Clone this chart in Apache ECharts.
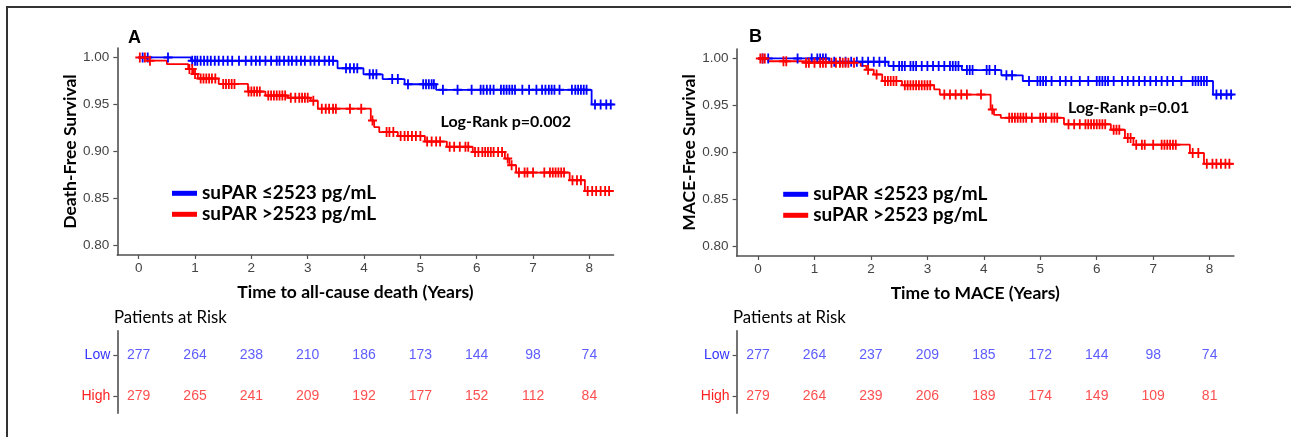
<!DOCTYPE html>
<html>
<head>
<meta charset="utf-8">
<script src="https://cdn.jsdelivr.net/npm/echarts@6/dist/echarts.min.js"></script>
<style>
html,body{margin:0;padding:0;background:#fff;}
#chart{width:1291px;height:437px;}
</style>
</head>
<body>
<div id="chart"></div>
<script>
// ---------- DATA ----------
const xTicks = [0, 1, 2, 3, 4, 5, 6, 7, 8];
const yTicks = [0.80, 0.85, 0.90, 0.95, 1.00];
const lowLabel = 'suPAR \u22642523 pg/mL';
const highLabel = 'suPAR >2523 pg/mL';

// Panel A: death-free survival (step times, survival after step)
const blueA_t = [0, 0.93, 3.53, 3.99, 4.33, 4.72, 5.28, 8.04, 8.43];
const blueA_s = [1.000, 0.9964, 0.9885, 0.982, 0.977, 0.9715, 0.9655, 0.950, 0.950];
const blueA_cens = [0.07, 0.16, 0.52, 0.95, 1.0, 1.04, 1.1, 1.16, 1.22, 1.28, 1.35, 1.42, 1.5, 1.58, 1.66, 1.78, 1.9, 2.0, 2.08, 2.15, 2.25, 2.35, 2.45, 2.5, 2.58, 2.66, 2.72, 2.8, 2.88, 2.95, 3.05, 3.12, 3.2, 3.3, 3.38, 3.45, 3.68, 3.75, 3.82, 3.88, 4.1, 4.16, 4.22, 4.5, 4.6, 4.78, 5.05, 5.1, 5.15, 5.2, 5.24, 5.4, 5.66, 5.91, 6.07, 6.12, 6.18, 6.24, 6.3, 6.43, 6.48, 6.53, 6.58, 6.63, 6.68, 6.81, 6.93, 7.06, 7.16, 7.22, 7.28, 7.33, 7.38, 7.47, 7.69, 7.75, 7.8, 7.85, 7.9, 7.95, 8.1, 8.2, 8.3, 8.38];
const redA_t = [0, 0.15, 0.5, 0.88, 0.97, 1.05, 1.42, 1.94, 2.25, 2.65, 3.05, 3.18, 4.12, 4.18, 4.27, 4.6, 5.08, 5.47, 5.93, 6.5, 6.58, 6.7, 7.65, 7.92, 8.43];
const redA_s = [1.000, 0.9965, 0.9928, 0.9878, 0.9825, 0.9775, 0.9718, 0.9637, 0.9594, 0.957, 0.954, 0.9455, 0.933, 0.926, 0.9206, 0.9165, 0.9105, 0.905, 0.8995, 0.8925, 0.8855, 0.8776, 0.8695, 0.858, 0.858];
const redA_cens = [0.02, 0.11, 0.2, 0.9, 0.95, 1.0, 1.1, 1.15, 1.2, 1.25, 1.3, 1.36, 1.5, 1.55, 1.6, 1.65, 1.7, 1.95, 2.0, 2.05, 2.1, 2.15, 2.3, 2.35, 2.4, 2.45, 2.5, 2.55, 2.6, 2.7, 2.78, 2.85, 2.9, 2.95, 3.0, 3.1, 3.25, 3.32, 3.38, 3.45, 3.5, 3.75, 3.95, 4.15, 4.4, 4.45, 4.52, 4.65, 4.72, 4.78, 4.85, 4.92, 5.0, 5.12, 5.2, 5.28, 5.35, 5.52, 5.6, 5.7, 5.8, 5.85, 5.97, 6.03, 6.1, 6.15, 6.2, 6.25, 6.3, 6.38, 6.45, 6.55, 6.62, 6.75, 6.85, 6.9, 7.0, 7.2, 7.3, 7.35, 7.4, 7.45, 7.5, 7.55, 7.7, 7.78, 7.85, 7.97, 8.05, 8.12, 8.2, 8.28, 8.35];

// Panel B: MACE-free survival
const blueB_t = [0, 1.26, 2.31, 3.61, 4.31, 4.69, 8.06, 8.42];
const blueB_s = [1.000, 0.9964, 0.9918, 0.9876, 0.982, 0.976, 0.9616, 0.9616];
const blueB_cens = [0.08, 0.18, 0.7, 0.95, 1.05, 1.1, 1.15, 1.2, 1.35, 1.45, 1.55, 1.65, 1.75, 1.85, 1.95, 2.05, 2.15, 2.25, 2.4, 2.5, 2.55, 2.6, 2.7, 2.75, 2.8, 2.9, 3.0, 3.1, 3.2, 3.3, 3.4, 3.45, 3.5, 3.55, 3.7, 3.75, 3.8, 4.05, 4.1, 4.2, 4.4, 4.5, 4.8, 4.95, 5.0, 5.05, 5.1, 5.2, 5.35, 5.45, 5.55, 5.7, 5.85, 6.0, 6.05, 6.1, 6.15, 6.2, 6.3, 6.45, 6.55, 6.65, 6.75, 6.85, 6.95, 7.05, 7.15, 7.25, 7.35, 7.5, 7.7, 7.75, 7.8, 7.85, 7.9, 7.95, 8.12, 8.2, 8.3, 8.38];
const redB_t = [0, 0.18, 0.75, 1.82, 1.92, 2.05, 2.2, 2.55, 3.12, 3.22, 4.12, 4.18, 4.3, 5.42, 6.25, 6.5, 6.65, 7.65, 7.9, 8.42];
const redB_s = [1.000, 0.997, 0.9955, 0.992, 0.988, 0.983, 0.976, 0.9716, 0.967, 0.9616, 0.9456, 0.940, 0.9368, 0.930, 0.9243, 0.9155, 0.9083, 0.8995, 0.888, 0.888];
const redB_cens = [0.04, 0.08, 0.12, 0.45, 0.5, 0.85, 0.9, 1.0, 1.1, 1.15, 1.2, 1.3, 1.38, 1.45, 1.5, 1.55, 1.6, 1.7, 1.95, 2.1, 2.25, 2.3, 2.35, 2.4, 2.45, 2.6, 2.65, 2.7, 2.75, 2.8, 2.85, 2.9, 2.95, 3.0, 3.05, 3.3, 3.4, 3.5, 3.6, 3.7, 3.95, 4.15, 4.45, 4.5, 4.55, 4.6, 4.65, 4.7, 4.75, 4.85, 5.0, 5.05, 5.1, 5.2, 5.25, 5.3, 5.5, 5.6, 5.7, 5.8, 5.85, 5.9, 5.95, 6.0, 6.05, 6.1, 6.15, 6.3, 6.35, 6.4, 6.55, 6.6, 6.7, 6.8, 6.85, 7.0, 7.15, 7.2, 7.25, 7.3, 7.35, 7.4, 7.7, 7.8, 7.95, 8.05, 8.12, 8.2, 8.28, 8.35];

// Patients at risk
const riskTimes = [0, 1, 2, 3, 4, 5, 6, 7, 8];
const riskA_low = [277, 264, 238, 210, 186, 173, 144, 98, 74];
const riskA_high = [279, 265, 241, 209, 192, 177, 152, 112, 84];
const riskB_low = [277, 264, 237, 209, 185, 172, 144, 98, 74];
const riskB_high = [279, 264, 239, 206, 189, 174, 149, 109, 81];

// ---------- STYLE ----------
const BLUE = '#0000FF', RED = '#FF0000';
const TBLUE = '#3333ff', TRED = '#ff2222';
const AXIS = '#505050', TICKTXT = '#444444';
const SANS = '"Liberation Sans", Arial, sans-serif';
const HUM = 'Lato, "Open Sans", sans-serif';
const PLUS = 'path://M4,0H6V4H10V6H6V10H4V6H0V4H4Z';

function stepData(ts, ss) { return ts.map((t, i) => [t, ss[i]]); }
function survAt(ts, ss, t) { let v = ss[0]; for (let i = 0; i < ts.length; i++) { if (ts[i] <= t) v = ss[i]; } return v; }
function censData(ts, ss, cs) { return cs.map(c => [c, survAt(ts, ss, c)]); }

const grids = [
  { left: 117.3, top: 48, width: 496.3, height: 207 },
  { left: 736.6, top: 49, width: 497.3, height: 207 },
  { left: 117.3, top: 330.7, width: 496.3, height: 82.6 },
  { left: 736.6, top: 330.7, width: 497.3, height: 82.6 }
];

function plotX(idx, name) {
  return {
    gridIndex: idx, type: 'value', min: -0.38, max: 8.43,
    name: name, nameLocation: 'middle', nameGap: 28,
    nameTextStyle: { fontFamily: HUM, fontWeight: 'bold', fontSize: 17.5, color: '#000', padding: [0, 20, 0, 0] },
    axisLine: { show: true, onZero: false, lineStyle: { color: AXIS, width: 1.6 } },
    axisTick: { show: true, length: 4, lineStyle: { color: AXIS, width: 1.2 }, customValues: xTicks },
    axisLabel: { show: true, customValues: xTicks, margin: 6, color: TICKTXT, fontFamily: SANS, fontSize: 13.5 },
    splitLine: { show: false }
  };
}
function plotY(idx, name) {
  return {
    gridIndex: idx, type: 'value', min: 0.79, max: 1.01,
    name: name, nameLocation: 'middle', nameGap: 37,
    nameTextStyle: { fontFamily: HUM, fontWeight: 'bold', fontSize: 17.5, color: '#000' },
    axisLine: { show: true, onZero: false, lineStyle: { color: AXIS, width: 1.6 } },
    axisTick: { show: true, length: 4, lineStyle: { color: AXIS, width: 1.2 }, customValues: yTicks },
    axisLabel: { show: true, customValues: yTicks, margin: 8, color: TICKTXT, fontFamily: SANS, fontSize: 13.5,
      formatter: v => v.toFixed(2) },
    splitLine: { show: false }
  };
}
function tableX(idx) {
  return { gridIndex: idx, type: 'value', min: -0.38, max: 8.43, show: false, axisLine: { onZero: false }, splitLine: { show: false } };
}
function tableY(idx) {
  return {
    gridIndex: idx, type: 'value', min: -0.4, max: 1.58,
    axisLine: { show: true, onZero: false, lineStyle: { color: AXIS, width: 1.6 } },
    axisTick: { show: true, length: 4, lineStyle: { color: AXIS, width: 1.2 }, customValues: [0, 1] },
    axisLabel: { show: true, customValues: [0, 1], margin: 7, fontFamily: SANS, fontSize: 14,
      formatter: v => v === 1 ? '{low|Low}' : '{high|High}',
      rich: { low: { color: TBLUE, fontFamily: SANS, fontSize: 14 }, high: { color: TRED, fontFamily: SANS, fontSize: 14 } } },
    splitLine: { show: false }
  };
}

function curve(name, idx, ts, ss, color) {
  return { name: name, type: 'line', step: 'end', xAxisIndex: idx, yAxisIndex: idx,
    data: stepData(ts, ss), showSymbol: false, symbol: 'none', silent: true,
    lineStyle: { color: color, width: 1.8 }, itemStyle: { color: color }, z: 3 };
}
function cens(name, idx, ts, ss, cs, color) {
  return { name: name, type: 'scatter', xAxisIndex: idx, yAxisIndex: idx,
    data: censData(ts, ss, cs), symbol: PLUS, symbolSize: [9, 10], silent: true,
    itemStyle: { color: color, opacity: 1 }, z: 4 };
}
function riskRow(idx, counts, row, color) {
  return { name: row === 1 ? 'Low' : 'High', type: 'scatter', xAxisIndex: idx, yAxisIndex: idx,
    data: riskTimes.map((t, i) => [t, row, counts[i]]), symbolSize: 1, silent: true,
    itemStyle: { color: 'rgba(0,0,0,0)' },
    label: { show: true, position: 'inside', formatter: p => String(p.value[2]), color: color, fontFamily: SANS, fontSize: 14 } };
}

function legend(left, top) {
  return {
    left: left, top: top, orient: 'vertical', padding: 0, itemGap: 0,
    itemWidth: 25, itemHeight: 5, icon: 'rect', selectedMode: false,
    textStyle: { fontFamily: HUM, fontWeight: 'bold', fontSize: 19, color: '#000', lineHeight: 21 },
    data: [lowLabel, highLabel]
  };
}

function txt(x, y, text, font, size, weight, align) {
  return { type: 'text', left: x, top: y, silent: true,
    style: { text: text, fontFamily: font, fontSize: size, fontWeight: weight, fill: '#000', textAlign: align || 'left', textVerticalAlign: 'middle' } };
}

const chart = echarts.init(document.getElementById('chart'), null, { renderer: 'canvas' });
chart.setOption({
  backgroundColor: '#ffffff',
  animation: false,
  grid: grids,
  xAxis: [plotX(0, 'Time to all-cause death (Years)'), plotX(1, 'Time to MACE (Years)'), tableX(2), tableX(3)],
  yAxis: [plotY(0, 'Death-Free Survival'), plotY(1, 'MACE-Free Survival'), tableY(2), tableY(3)],
  legend: [legend(172, 182.8), legend(783.2, 183.8)],
  series: [
    curve(lowLabel, 0, blueA_t, blueA_s, BLUE),
    curve(highLabel, 0, redA_t, redA_s, RED),
    cens(lowLabel, 0, blueA_t, blueA_s, blueA_cens, BLUE),
    cens(highLabel, 0, redA_t, redA_s, redA_cens, RED),
    curve(lowLabel, 1, blueB_t, blueB_s, BLUE),
    curve(highLabel, 1, redB_t, redB_s, RED),
    cens(lowLabel, 1, blueB_t, blueB_s, blueB_cens, BLUE),
    cens(highLabel, 1, redB_t, redB_s, redB_cens, RED),
    riskRow(2, riskA_low, 1, TBLUE),
    riskRow(2, riskA_high, 0, TRED),
    riskRow(3, riskB_low, 1, TBLUE),
    riskRow(3, riskB_high, 0, TRED)
  ],
  graphic: [
    { type: 'rect', shape: { x: 6, y: 6, width: 1300, height: 2 }, style: { fill: '#333' }, silent: true },
    { type: 'rect', shape: { x: 6, y: 6, width: 2, height: 440 }, style: { fill: '#333' }, silent: true },
    txt(128, 29, 'A', SANS, 18, 'bold'),
    txt(749, 28.5, 'B', SANS, 18, 'bold'),
    txt(440.5, 114, 'Log-Rank p=0.002', HUM, 16, 'bold'),
    txt(1068, 100, 'Log-Rank p=0.01', HUM, 16, 'bold'),
    txt(114, 309, 'Patients at Risk', HUM, 16.8, 'normal'),
    txt(733, 309, 'Patients at Risk', HUM, 16.8, 'normal')
  ]
});
</script>
</body>
</html>
